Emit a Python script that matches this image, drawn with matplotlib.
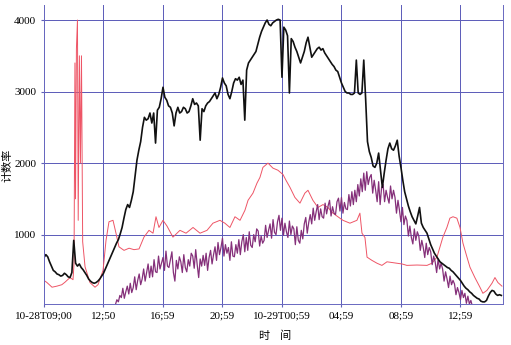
import matplotlib.pyplot as plt
import numpy as np

plt.rcParams['font.family'] = ['Liberation Serif', 'Noto Sans CJK SC']

# time in hours after 10-28 09:00
tick_hours = [0, 4, 8, 12, 16, 20, 24, 28]
tick_labels = ['10-28T09;00', '12;50', '16;59', '20;59', '10-29T00;59',
               '04;59', '08;59', '12;59']

# black series, sampled every 0.125 h
black_v = [680, 720, 690, 620, 560, 500, 480, 450, 440, 420,
           430, 460, 440, 410, 400, 470, 920, 600, 560, 590,
           540, 510, 470, 430, 380, 350, 330, 320, 330, 350,
           380, 420, 460, 520, 580, 640, 700, 760, 820, 880,
           930, 1010, 1100, 1230, 1350, 1420, 1380, 1480, 1600, 1820,
           2040, 2180, 2300, 2500, 2640, 2600, 2620, 2700, 2560, 2700,
           2280, 2740, 2780, 2900, 3060, 2920, 2880, 2800, 2780, 2700,
           2520, 2700, 2780, 2700, 2720, 2780, 2760, 2700, 2720, 2800,
           2900, 2820, 2840, 2800, 2320, 2760, 2720, 2800, 2840, 2860,
           2900, 2940, 2980, 2900, 2960, 3060, 3190, 3120, 3080, 2960,
           2900, 3000, 3120, 3180, 3160, 3200, 3100, 3160, 2600, 3300,
           3400, 3440, 3480, 3520, 3560, 3660, 3760, 3840, 3900, 3960,
           4000, 3940, 3920, 3960, 3980, 4000, 4010, 4000, 3200, 3900,
           3860, 3780, 2980, 3740, 3700, 3620, 3560, 3480, 3400, 3480,
           3560, 3680, 3760, 3620, 3480, 3520, 3560, 3600, 3620, 3580,
           3600, 3540, 3500, 3460, 3420, 3380, 3350, 3300, 3280, 3200,
           3120, 3060, 3000, 2980, 2980, 2960, 2960, 2980, 3440, 2980,
           2960, 2980, 3440, 2900, 2300, 2160, 2080, 1960, 1940, 2000,
           2140, 1900, 1660, 1860, 2040, 2200, 2280, 2200, 2180, 2240,
           2320, 2100, 1940, 1760, 1600, 1500, 1400, 1320, 1250, 1200,
           1150, 1260, 1380, 1160, 1100, 1060, 1020, 940, 860, 800,
           740, 700, 660, 620, 600, 580, 560, 540, 530, 500,
           480, 450, 420, 390, 360, 320, 280, 250, 230, 200,
           180, 150, 130, 110, 100, 70, 60, 60, 80, 140,
           190, 220, 210, 170, 150, 160, 150]
black_t = np.arange(len(black_v)) * 0.125

# red series
red_t = [0.00, 0.20, 0.54, 0.87, 1.20, 1.41, 1.75, 1.95, 2.02, 2.08,
         2.12, 2.18, 2.25, 2.30, 2.38, 2.45, 2.52, 2.60, 2.76, 3.09,
         3.43, 3.63, 3.97, 4.17, 4.37, 4.64, 4.84, 5.04, 5.38, 5.72,
         6.05, 6.39, 6.72, 7.06, 7.33, 7.53, 7.73, 8.00, 8.27, 8.67,
         9.14, 9.55, 10.02, 10.49, 10.96, 11.36, 11.83, 12.16, 12.50, 12.84,
         13.18, 13.51, 13.72, 14.05, 14.32, 14.52, 14.72, 15.06, 15.39, 15.73,
         16.07, 16.27, 16.54, 16.87, 17.21, 17.54, 17.75, 18.08, 18.42, 18.76,
         19.09, 19.43, 19.76, 20.10, 20.57, 21.04, 21.24, 21.38, 21.58, 21.72,
         22.05, 22.39, 22.72, 23.06, 23.40, 23.73, 24.07, 24.40, 25.08, 25.75,
         26.08, 26.42, 26.62, 26.82, 27.09, 27.29, 27.50, 27.76, 27.97, 28.17,
         28.44, 28.64, 28.97, 29.31, 29.51, 29.78, 30.12, 30.32, 30.52, 30.79]
red_v = [360, 330, 265, 280, 300, 335, 400, 370, 600, 3400,
         1500, 3600, 4000, 1200, 3500, 2000, 3500, 900, 550, 330,
         265, 300, 500, 920, 1180, 1200, 1020, 830, 780, 810,
         790, 800, 965, 1060, 1020, 1250, 1100, 1200, 1120, 965,
         1060, 1020, 1100, 1020, 1060, 1160, 1200, 1160, 1100, 1250,
         1200, 1340, 1480, 1580, 1720, 1800, 1940, 2000, 1930, 1900,
         1840, 1760, 1660, 1520, 1440, 1580, 1620, 1480, 1380, 1420,
         1380, 1300, 1250, 1200, 1160, 1200, 1300, 1020, 960, 685,
         640, 600, 570, 620, 610, 600, 590, 570, 575, 570,
         600, 685, 825, 965, 1100, 1230, 1250, 1230, 1100, 880,
         685, 545, 400, 265, 180, 220, 320, 400, 330, 280]

# purple series, sampled every 0.1 h from 4.8 h
purple_v = [20, 90, 60, 150, 120, 250, 110, 200, 280, 170,
            320, 190, 260, 410, 230, 360, 450, 300, 380, 520,
            350, 470, 590, 400, 560, 410, 650, 480, 470, 700,
            520, 600, 680, 500, 770, 560, 540, 650, 760, 470,
            350, 640, 520, 690, 620, 470, 720, 540, 480, 650,
            560, 740, 700, 530, 790, 580, 400, 660, 560, 710,
            570, 740, 500, 680, 780, 590, 720, 830, 640, 890,
            720, 820, 950, 700, 860, 740, 820, 640, 900, 700,
            690, 860, 740, 930, 720, 900, 1000, 760, 960, 780,
            1040, 850, 820, 1000, 900, 1080, 1050, 840, 980, 880,
            920, 1130, 960, 1060, 1150, 950, 1210, 1030, 1000, 1180,
            1270, 1060, 1230, 990, 1160, 1040, 960, 1190, 1000, 1120,
            1080, 860, 1110, 920, 880, 1060, 940, 1150, 1240, 1020,
            1170, 1280, 1150, 1370, 1200, 1320, 1420, 1210, 1360, 1250,
            1230, 1440, 1290, 1400, 1480, 1260, 1390, 1300, 1280, 1460,
            1510, 1330, 1520, 1300, 1450, 1360, 1350, 1560, 1400, 1600,
            1420, 1620, 1460, 1700, 1540, 1780, 1600, 1860, 1620, 1880,
            1700, 1800, 1840, 1580, 1760, 1620, 1460, 1740, 1420, 1660,
            1700, 1460, 1620, 1520, 1440, 1680, 1500, 1620, 1520, 1300,
            1480, 1340, 1180, 1380, 1140, 1260, 1200, 980, 1120, 960,
            870, 1080, 920, 1040, 980, 780, 920, 820, 680, 880,
            720, 820, 760, 580, 700, 620, 470, 660, 520, 600,
            520, 350, 480, 380, 260, 420, 300, 360, 310, 160,
            260, 190, 90, 220, 120, 180, 40, 140, 30, 80,
            0]
purple_t = 4.8 + np.arange(len(purple_v)) * 0.1

fig = plt.figure(figsize=(5.11, 3.45), dpi=100)
ax = fig.add_axes([0.0861, 0.1188, 0.8982, 0.8667])

ax.plot(red_t, red_v, color='#ee5566', lw=0.7)
ax.plot(purple_t, purple_v, color='#85307a', lw=0.9)
ax.plot(black_t, black_v, color='#111111', lw=1.2)

ax.set_xlim(0, 30.86)
ax.set_ylim(30, 4210)
ax.set_xticks(tick_hours)
ax.set_xticklabels(tick_labels, fontsize=8)
ax.set_yticks([1000, 2000, 3000, 4000])
ax.set_yticklabels(['1000', '2000', '3000', '4000'], fontsize=8)
ax.tick_params(length=2, color='#6060b8')
ax.grid(True, color='#5a5ab8', lw=0.7)
ax.set_axisbelow(True)

ax.spines['top'].set_visible(False)
for s in ['left', 'right', 'bottom']:
    ax.spines[s].set_color('#6868c0')
    ax.spines[s].set_linewidth(0.7)

ax.set_ylabel('计数率', fontsize=8, family='Noto Sans CJK SC')
ax.yaxis.set_label_coords(-0.068, 0.465)
ax.set_xlabel('时    间', fontsize=8, family='Noto Sans CJK SC')
ax.xaxis.set_label_coords(0.503, -0.087)

fig.savefig('out.png', dpi=100)
